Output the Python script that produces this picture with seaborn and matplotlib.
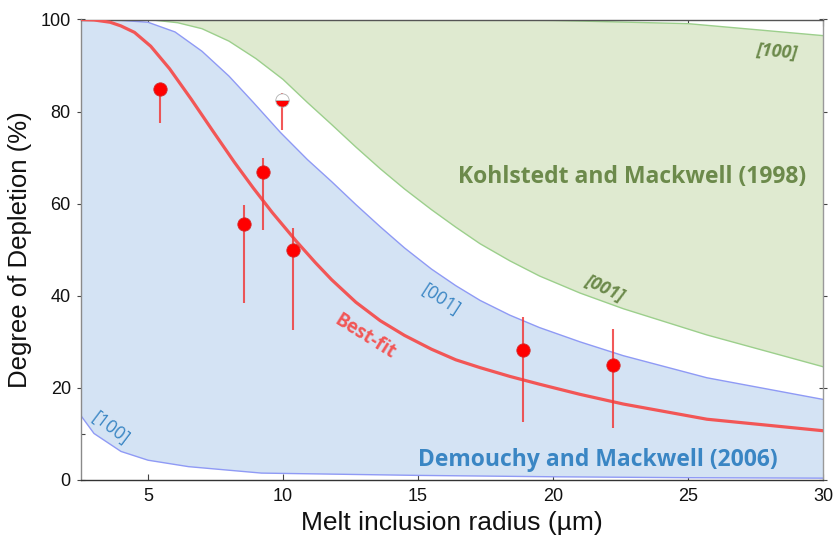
import numpy as np
import matplotlib
matplotlib.use("Agg")
import matplotlib.pyplot as plt
from matplotlib.ticker import MultipleLocator
import seaborn as sns

# Kohlstedt and Mackwell (1998) envelope
kohl_100_r = [2.5, 15.0, 20.0, 25.0, 30.0]
kohl_100_d = [100.0, 100.0, 99.8, 99.1, 96.5]
kohl_001_r = [2.5, 5.0, 6.1, 7.0, 8.0, 9.0, 10.0, 10.9, 11.8, 12.7, 13.6, 14.5, 15.5, 16.4,
              17.3, 18.4, 19.5, 21.0, 22.6, 25.7, 30.0]
kohl_001_d = [100.0, 100.0, 99.3, 98.0, 95.3, 91.5, 87.0, 82.0, 77.2, 72.3, 67.6, 63.2, 58.7, 54.9,
              51.3, 47.6, 44.3, 40.6, 37.2, 31.5, 24.6]

# Demouchy and Mackwell (2006) envelope
dem_001_r = [2.5, 4.0, 5.0, 6.0, 7.0, 8.0, 8.9, 9.9, 10.9, 11.8, 12.7, 13.6, 14.5, 15.5, 16.4,
             17.3, 18.4, 19.5, 21.0, 22.6, 25.7, 30.0]
dem_001_d = [100.0, 99.8, 99.4, 97.3, 93.1, 87.7, 82.0, 75.5, 69.6, 64.8, 59.8, 55.0, 50.4, 45.8, 42.2,
             39.0, 35.8, 33.1, 30.0, 27.0, 22.2, 17.5]
dem_100_r = [2.5, 3.0, 4.0, 5.0, 6.5, 9.2, 15.0, 20.0, 25.0, 30.0]
dem_100_d = [14.1, 10.1, 6.2, 4.3, 2.9, 1.5, 1.0, 0.7, 0.5, 0.4]

# Best-fit diffusion curve
fit_r = [2.5, 3.0, 3.6, 4.0, 4.5, 5.1, 5.8, 6.6, 7.4, 8.2, 8.9, 9.6, 10.5, 11.2, 11.8, 12.7, 13.6,
         14.5, 15.5, 16.4, 17.3, 18.4, 19.5, 21.0, 22.6, 25.7, 30.0]
fit_d = [100.0, 99.9, 99.4, 98.6, 97.2, 94.2, 89.3, 82.7, 75.8, 69.0, 63.4, 58.1, 51.8, 47.2, 43.5, 38.6, 34.6,
         31.4, 28.4, 26.1, 24.4, 22.5, 20.8, 18.6, 16.5, 13.2, 10.7]

# Measured melt inclusions
mi_radius = [5.46, 8.56, 9.27, 10.36, 18.9, 22.23]
mi_depletion = [84.8, 55.7, 66.8, 50.0, 28.3, 24.9]
mi_err_low = [7.3, 17.3, 12.5, 17.4, 15.7, 13.7]
mi_err_high = [1.0, 4.1, 3.2, 4.7, 7.2, 7.9]

# Partially re-equilibrated inclusion (half-filled symbol)
half_radius = [9.97]
half_depletion = [82.5]
half_err_low = [6.6]
half_err_high = [1.6]

sns.set_theme(style="ticks")
plt.rcParams["font.family"] = ["Liberation Sans", "DejaVu Sans"]

fig = plt.figure(figsize=(8.33, 5.36), dpi=100)
ax = fig.add_axes([80.5 / 833, 1 - 480 / 536, (823 - 80.5) / 833, (480 - 19.5) / 536])

green_fill = "#dfead0"
green_edge = "#9ccf8c"
blue_fill = "#d4e3f4"
blue_edge = "#8f9af5"

# shaded envelopes
ax.fill(np.concatenate([kohl_100_r, kohl_001_r[::-1]]),
        np.concatenate([kohl_100_d, kohl_001_d[::-1]]),
        color=green_fill, lw=0, zorder=1)
ax.fill(np.concatenate([dem_001_r, dem_100_r[::-1]]),
        np.concatenate([dem_001_d, dem_100_d[::-1]]),
        color=blue_fill, lw=0, zorder=1)

for xs, ys, c in [(kohl_100_r, kohl_100_d, green_edge), (kohl_001_r, kohl_001_d, green_edge),
                  (dem_001_r, dem_001_d, blue_edge), (dem_100_r, dem_100_d, blue_edge)]:
    sns.lineplot(x=xs, y=ys, ax=ax, color=c, lw=1.0, zorder=2)

sns.lineplot(x=fit_r, y=fit_d, ax=ax, color="#f25656", lw=2.3, zorder=3)

# error bars and symbols
ax.errorbar(mi_radius, mi_depletion, yerr=[mi_err_low, mi_err_high], fmt="none",
            ecolor="#f03c3c", elinewidth=1.5, alpha=0.85, zorder=4)
ax.errorbar(half_radius, half_depletion, yerr=[half_err_low, half_err_high], fmt="none",
            ecolor="#f03c3c", elinewidth=1.5, alpha=0.85, zorder=4)
ax.plot(mi_radius, mi_depletion, "o", ms=9.6, color="#ff0000", mec="#d42a2a", mew=0.6, zorder=5)
ax.plot(half_radius, half_depletion, "o", ms=9.6, color="#ff0000", fillstyle="bottom",
        markerfacecoloralt="white", mec="#b0b0b0", mew=0.6, zorder=5)

# annotations
lab_font = ["Open Sans", "DejaVu Sans"]
green_txt = "#6c8a4b"
blue_txt = "#3a86c4"
ax.text(22.93, 65.7, "Kohlstedt and Mackwell (1998)", color=green_txt, fontsize=16.5,
        fontweight="bold", family=lab_font, ha="center", va="center", zorder=6)
ax.text(21.67, 4.3, "Demouchy and Mackwell (2006)", color=blue_txt, fontsize=16.5,
        fontweight="bold", family=lab_font, ha="center", va="center", zorder=6)
ax.text(28.3, 93.0, "[100]", color=green_txt, fontsize=13, fontweight="bold", style="italic",
        family=lab_font, ha="center", va="center", rotation=-5, zorder=6)
ax.text(21.9, 41.7, "[001]", color=green_txt, fontsize=13, fontweight="bold", style="italic",
        family=lab_font, ha="center", va="center", rotation=-25, zorder=6)
ax.text(15.85, 39.1, "[001]", color=blue_txt, fontsize=13, family=lab_font,
        ha="center", va="center", rotation=-33, zorder=6)
ax.text(3.6, 11.3, "[100]", color=blue_txt, fontsize=13, family=lab_font,
        ha="center", va="center", rotation=-37, zorder=6)
ax.text(13.05, 31.2, "Best-fit", color="#f25656", fontsize=13.5, fontweight="bold",
        family=lab_font, ha="center", va="center", rotation=-32, zorder=6)

ax.set_xlim(2.5, 30)
ax.set_ylim(0, 100)
ax.xaxis.set_major_locator(MultipleLocator(5))
ax.yaxis.set_major_locator(MultipleLocator(20))
ax.yaxis.set_minor_locator(MultipleLocator(10))
ax.tick_params(axis="x", which="major", direction="in", top=True, bottom=True,
               length=4, width=0.8, color="#444444", labelsize=13, pad=6, labelcolor="#111111")
ax.tick_params(axis="y", which="major", direction="inout", left=True, right=True,
               length=6, width=0.8, color="#444444", labelsize=13, pad=4, labelcolor="#111111")
ax.tick_params(axis="y", which="minor", direction="in", left=True, right=True,
               length=3, width=0.8, color="#444444")
ax.set_xlabel("Melt inclusion radius (µm)", fontsize=19, labelpad=4, color="#111111")
ax.set_ylabel("Degree of Depletion (%)", fontsize=18.5, labelpad=6, color="#111111")

for side, col in [("left", "#8a8a8a"), ("right", "#999999"), ("top", "#555555"), ("bottom", "#333333")]:
    ax.spines[side].set_visible(True)
    ax.spines[side].set_color(col)
    ax.spines[side].set_linewidth(1.0)

fig.savefig("out.png", dpi=100)
